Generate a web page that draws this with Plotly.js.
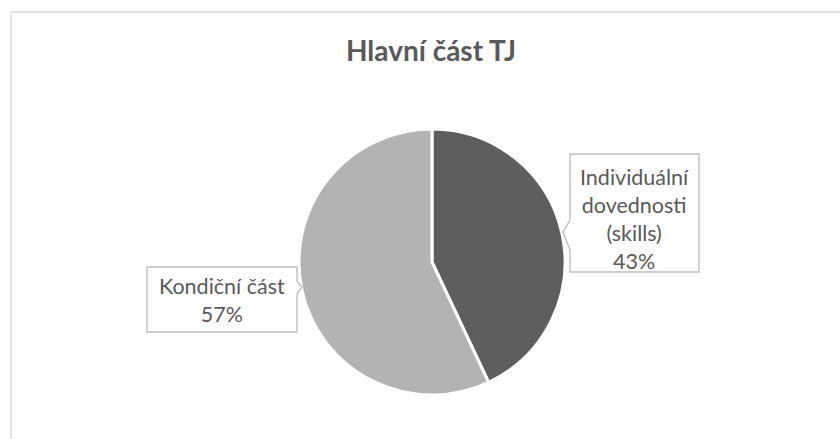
<!DOCTYPE html>
<html>
<head>
<meta charset="utf-8">
<script src="https://cdn.plot.ly/plotly-3.0.1.min.js"></script>
<style>html,body{margin:0;padding:0;background:#fff;}#chart{width:840px;height:439px;}</style>
</head>
<body>
<div id="chart"></div>
<script>
const chartTitle = "Hlavní část TJ";
const categories = ["Individuální dovednosti (skills)", "Kondiční část"];
const labelLines = [["Individuální", "dovednosti", "(skills)"], ["Kondiční část"]];
const values = [43, 57];
const colors = ["#5e5e5e", "#b3b3b3"];

const W = 840, H = 439;
const px = x => x / W;
const py = y => 1 - y / H;
const P = (x, y) => `${px(x)} ${py(y)}`;

const total = values.reduce((a, b) => a + b, 0);
const pct = values.map(v => Math.round(v / total * 100) + "%");

const cx = 432, cy = 262, r = 133;

const trace = {
  type: "pie",
  labels: categories,
  values: values,
  sort: false,
  direction: "clockwise",
  rotation: 0,
  textinfo: "none",
  hoverinfo: "label+percent",
  marker: { colors: colors, line: { color: "#ffffff", width: 3 } },
  domain: { x: [px(cx - r), px(cx + r)], y: [py(cy + r), py(cy - r)] },
  showlegend: false
};

const font = { family: "Lato, 'Open Sans', sans-serif", size: 21.5, color: "#595959" };

const annotations = [
  {
    xref: "paper", yref: "paper", x: px(634.5), y: py(219), xanchor: "center", yanchor: "middle",
    text: labelLines[0].concat([pct[0]]).join("<br>"), showarrow: false,
    font: font, align: "center"
  },
  {
    xref: "paper", yref: "paper", x: px(222), y: py(300), xanchor: "center", yanchor: "middle",
    text: labelLines[1].concat([pct[1]]).join("<br>"), showarrow: false,
    font: font, align: "center"
  }
];

const calloutLine = { color: "#bfbfbf", width: 1.4 };
const shapes = [
  { type: "rect", xref: "paper", yref: "paper", x0: px(11), x1: px(850), y0: py(450), y1: py(12),
    line: { color: "#d9d9d9", width: 1.3 }, fillcolor: "rgba(0,0,0,0)", layer: "below" },
  { type: "path", xref: "paper", yref: "paper",
    path: `M ${P(570,154)} L ${P(699,154)} L ${P(699,272)} L ${P(570,272)} L ${P(570,250)} L ${P(563,232)} L ${P(570,220)} Z`,
    line: calloutLine, fillcolor: "#ffffff", layer: "above" },
  { type: "path", xref: "paper", yref: "paper",
    path: `M ${P(147,267)} L ${P(297,267)} L ${P(297,281)} L ${P(302,287)} L ${P(297,294)} L ${P(297,332)} L ${P(147,332)} Z`,
    line: calloutLine, fillcolor: "#ffffff", layer: "above" }
];

const layout = {
  width: W, height: H,
  margin: { l: 0, r: 0, t: 0, b: 0 },
  paper_bgcolor: "#ffffff",
  title: {
    text: "<b>" + chartTitle + "</b>",
    font: { family: "Lato, 'Open Sans', sans-serif", size: 28, color: "#595959" },
    x: px(431), xanchor: "center", y: py(51), yanchor: "middle", xref: "paper", yref: "paper"
  },
  annotations: annotations,
  shapes: shapes
};

Plotly.newPlot("chart", [trace], layout, { displayModeBar: false, staticPlot: true });
</script>
</body>
</html>
